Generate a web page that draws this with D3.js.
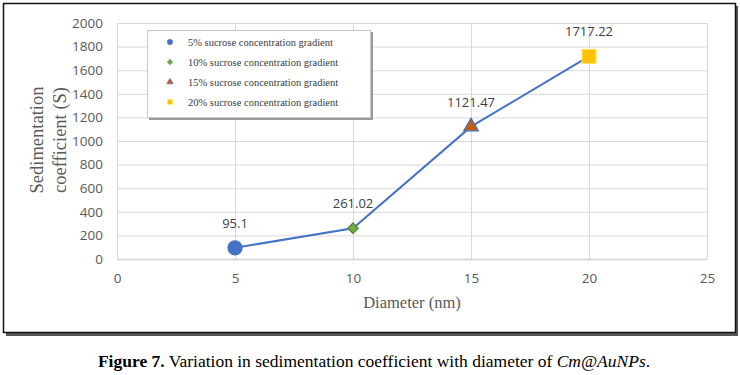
<!DOCTYPE html>
<html>
<head>
<meta charset="utf-8">
<script src="https://cdn.jsdelivr.net/npm/d3@7"></script>
<style>
  body { margin: 0; background: #fff; }
  svg { display: block; }
</style>
</head>
<body>
<svg width="740" height="375"></svg>
<script>
const diameters = [5, 10, 15, 20],
  coefficients = [95.1, 261.02, 1121.47, 1717.22],
  valueLabels = ['95.1', '261.02', '1121.47', '1717.22'],
  seriesNames = ['5% sucrose concentration gradient', '10% sucrose concentration gradient',
    '15% sucrose concentration gradient', '20% sucrose concentration gradient'],
  xTicks = [0, 5, 10, 15, 20, 25],
  yTicks = [0, 200, 400, 600, 800, 1000, 1200, 1400, 1600, 1800, 2000]

const markers = [
  { shape: d3.symbolCircle, size: 155, rot: 0, fill: '#4472c4', stroke: '#4472c4', lsize: 22 },
  { shape: d3.symbolSquare, size: 55, rot: 45, fill: '#70ad47', stroke: '#4e7f2f', lsize: 14 },
  { shape: d3.symbolTriangle, size: 95, rot: 0, fill: '#c55a11', stroke: '#4472c4', lsize: 18 },
  { shape: d3.symbolSquare, size: 190, rot: 0, fill: '#ffc000', stroke: '#ffe040', lsize: 22 }
]

const svg = d3.select('svg'),
  serif = '"Liberation Serif", "DejaVu Serif", serif',
  sans = '"Open Sans", "Liberation Sans", sans-serif'

// outer frame with shadow
svg.append('rect').attr('x', 6).attr('y', 6).attr('width', 732).attr('height', 330).attr('fill', '#555')
svg.append('rect').attr('x', 3.5).attr('y', 3.5).attr('width', 732).attr('height', 329)
  .attr('fill', '#fff').attr('stroke', '#111').attr('stroke-width', 1.5)

const x = d3.scaleLinear().domain([0, 25]).range([117, 707]),
  y = d3.scaleLinear().domain([0, 2000]).range([259, 23])

// gridlines
svg.append('g').attr('transform', 'translate(0,259)')
  .call(d3.axisBottom(x).tickValues(xTicks).tickSize(-236).tickFormat(''))
  .call(g => g.select('.domain').remove())
  .selectAll('line').attr('stroke', '#d9d9d9')
svg.append('g').attr('transform', 'translate(117,0)')
  .call(d3.axisLeft(y).tickValues(yTicks).tickSize(-590).tickFormat(''))
  .call(g => g.select('.domain').remove())
  .selectAll('line').attr('stroke', '#d9d9d9')
svg.append('line').attr('x1', 117).attr('x2', 707).attr('y1', 259.5).attr('y2', 259.5)
  .attr('stroke', '#d0d0d0').attr('stroke-width', 1.5)

// tick labels
svg.append('g').attr('transform', 'translate(0,259)')
  .call(d3.axisBottom(x).tickValues(xTicks).tickSize(0).tickPadding(14))
  .call(g => g.select('.domain').remove())
  .selectAll('text').attr('fill', '#595959').attr('font-size', 13.5).attr('font-family', sans)
svg.append('g').attr('transform', 'translate(117,0)')
  .call(d3.axisLeft(y).tickValues(yTicks).tickSize(0).tickPadding(14).tickFormat(d3.format('d')))
  .call(g => g.select('.domain').remove())
  .selectAll('text').attr('fill', '#595959').attr('font-size', 13.5).attr('font-family', sans)

// axis titles
svg.append('text').attr('x', 412).attr('y', 308).attr('text-anchor', 'middle')
  .attr('font-family', serif).attr('font-size', 16.5).attr('fill', '#595959').text('Diameter (nm)')
const yTitle = svg.append('text').attr('transform', 'translate(43,140) rotate(-90)')
  .attr('text-anchor', 'middle').attr('font-family', serif).attr('font-size', 18.5).attr('fill', '#595959')
yTitle.append('tspan').attr('x', 0).attr('dy', 0).text('Sedimentation')
yTitle.append('tspan').attr('x', 0).attr('dy', 23).text('coefficient (S)')

// line
const points = diameters.map((d, i) => [d, coefficients[i]])
svg.append('path').attr('d', d3.line().x(d => x(d[0])).y(d => y(d[1]))(points))
  .attr('fill', 'none').attr('stroke', '#4472c4').attr('stroke-width', 2)

// markers
svg.selectAll('.pt').data(points).join('path').attr('class', 'pt')
  .attr('transform', (d, i) => `translate(${x(d[0])},${y(d[1])}) rotate(${markers[i].rot})`)
  .attr('d', (d, i) => d3.symbol(markers[i].shape, markers[i].size)())
  .attr('fill', (d, i) => markers[i].fill)
  .attr('stroke', (d, i) => markers[i].stroke).attr('stroke-width', 1.2)

// data labels
svg.selectAll('.lbl').data(points).join('text').attr('class', 'lbl')
  .attr('x', d => x(d[0])).attr('y', d => y(d[1]) - 20).attr('text-anchor', 'middle')
  .attr('font-family', sans).attr('font-size', 13).attr('fill', '#404040')
  .text((d, i) => valueLabels[i])

// legend
const lg = svg.append('g').attr('transform', 'translate(147,30)')
lg.append('rect').attr('x', 2).attr('y', 2).attr('width', 224).attr('height', 88).attr('fill', '#999')
lg.append('rect').attr('x', 0.5).attr('y', 0.5).attr('width', 223).attr('height', 87)
  .attr('fill', '#fff').attr('stroke', '#c8c8c8')
seriesNames.forEach((name, i) => {
  const yy = 12 + i * 20
  lg.append('path').attr('transform', `translate(23,${yy}) rotate(${markers[i].rot})`)
    .attr('d', d3.symbol(markers[i].shape, markers[i].lsize)())
    .attr('fill', markers[i].fill).attr('stroke', markers[i].stroke).attr('stroke-width', 0.6)
  lg.append('text').attr('x', 41).attr('y', yy + 3.5).attr('font-family', serif)
    .attr('font-size', 10.5).attr('fill', '#3a3a3a').text(name)
})

// caption
const cap = svg.append('text').attr('x', 374).attr('y', 367).attr('text-anchor', 'middle')
  .attr('font-family', serif).attr('font-size', 17.5).attr('fill', '#000')
cap.append('tspan').attr('font-weight', 'bold').text('Figure 7.')
cap.append('tspan').text(' Variation in sedimentation coefficient with diameter of ')
cap.append('tspan').attr('font-style', 'italic').text('Cm@AuNPs')
cap.append('tspan').text('.')
</script>
</body>
</html>
